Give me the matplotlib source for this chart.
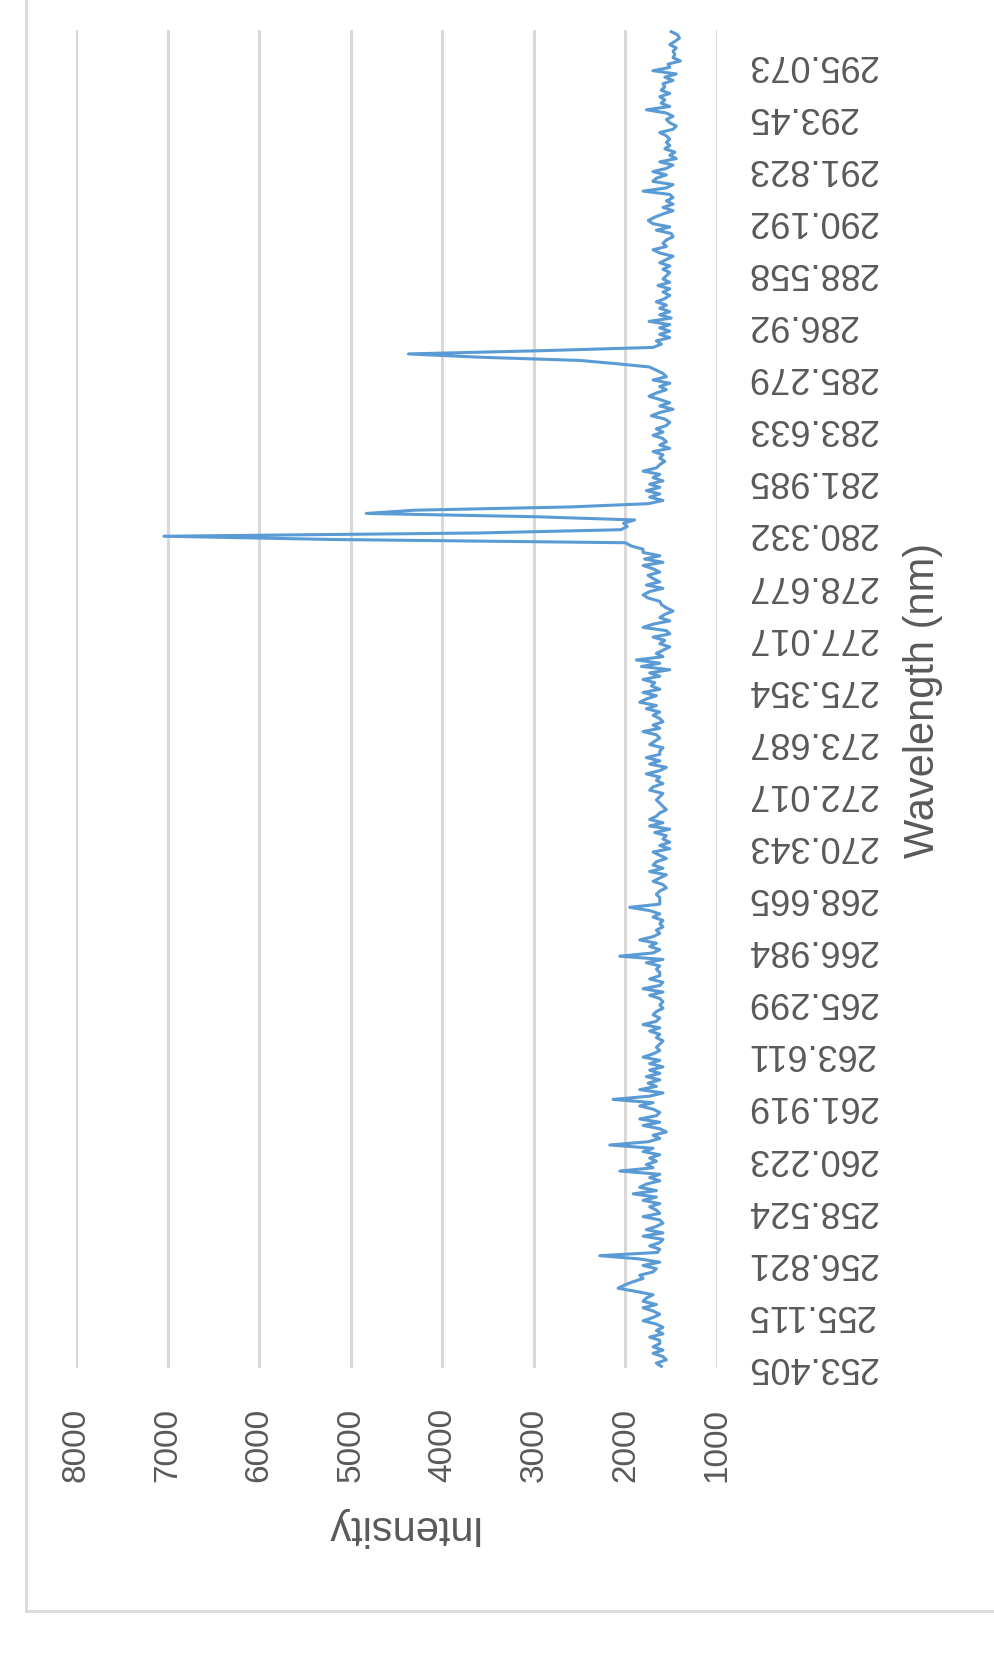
import matplotlib
matplotlib.use("Agg")
import matplotlib.pyplot as plt
from matplotlib.lines import Line2D

plt.rcParams['font.family'] = ['Liberation Sans', 'DejaVu Sans']

# Category-axis labels (every 16th wavelength sample, nm)
wavelength_labels = ["253.405", "255.115", "256.821", "258.524", "260.223", "261.919",
                     "263.611", "265.299", "266.984", "268.665", "270.343", "272.017",
                     "273.687", "275.354", "277.017", "278.677", "280.332", "281.985",
                     "283.633", "285.279", "286.92", "288.558", "290.192", "291.823",
                     "293.45", "295.073"]
label_every = 16

intensity_ticks = [1000, 2000, 3000, 4000, 5000, 6000, 7000, 8000]

# Intensity, listed from the longest wavelength (top) downwards
intensity_from_top = [
    1500, 1430, 1410, 1460, 1516, 1445, 1480, 1460, 1480, 1400,
    1535, 1516, 1700, 1445, 1570, 1480, 1590, 1570, 1610, 1516,
    1625, 1570, 1610, 1516, 1770, 1553, 1480, 1553, 1516, 1445,
    1480, 1625, 1553, 1516, 1553, 1516, 1570, 1460, 1516, 1445,
    1625, 1480, 1553, 1700, 1553, 1662, 1700, 1480, 1553, 1807,
    1516, 1480, 1553, 1480, 1590, 1480, 1590, 1680, 1750, 1700,
    1516, 1662, 1500, 1480, 1553, 1590, 1553, 1698, 1625, 1480,
    1553, 1625, 1516, 1590, 1516, 1553, 1590, 1516, 1644, 1516,
    1590, 1516, 1570, 1662, 1553, 1625, 1516, 1625, 1500, 1742,
    1516, 1625, 1516, 1625, 1516, 1662, 1607, 1698, 2900, 4370,
    3600, 2500, 2100, 1740, 1662, 1590, 1553, 1698, 1516, 1625,
    1553, 1662, 1742, 1625, 1516, 1625, 1480, 1625, 1716, 1570,
    1516, 1553, 1662, 1590, 1698, 1590, 1553, 1625, 1516, 1698,
    1590, 1625, 1570, 1625, 1662, 1807, 1625, 1698, 1590, 1735,
    1625, 1771, 1625, 1735, 1590, 1750, 2600, 4300, 4830, 3000,
    1900, 2020, 1980, 2050, 3600, 7040, 5200, 2000, 1935, 1807,
    1807, 1625, 1790, 1590, 1807, 1698, 1625, 1753, 1698, 1625,
    1771, 1590, 1735, 1807, 1750, 1625, 1607, 1553, 1480, 1570,
    1625, 1516, 1698, 1807, 1553, 1516, 1698, 1570, 1625, 1516,
    1590, 1662, 1590, 1880, 1625, 1825, 1516, 1735, 1625, 1807,
    1680, 1716, 1625, 1807, 1662, 1771, 1844, 1662, 1771, 1625,
    1698, 1625, 1590, 1698, 1625, 1807, 1662, 1625, 1680, 1735,
    1590, 1625, 1625, 1771, 1625, 1735, 1553, 1625, 1771, 1625,
    1662, 1590, 1698, 1735, 1590, 1625, 1662, 1625, 1590, 1553,
    1625, 1662, 1735, 1590, 1735, 1516, 1680, 1553, 1590, 1516,
    1625, 1516, 1698, 1625, 1553, 1662, 1698, 1590, 1735, 1553,
    1625, 1698, 1590, 1553, 1625, 1662, 1625, 1625, 1625, 1953,
    1735, 1625, 1698, 1590, 1625, 1590, 1662, 1625, 1698, 1844,
    1662, 1735, 1625, 1698, 2062, 1590, 1771, 1625, 1662, 1625,
    1625, 1735, 1590, 1625, 1807, 1590, 1735, 1625, 1590, 1625,
    1590, 1662, 1698, 1625, 1662, 1807, 1625, 1735, 1625, 1662,
    1590, 1625, 1662, 1625, 1698, 1807, 1625, 1735, 1590, 1735,
    1625, 1771, 1625, 1753, 1662, 1844, 1590, 1735, 2135, 1698,
    1844, 1698, 1625, 1662, 1844, 1625, 1807, 1625, 1553, 1698,
    1625, 1753, 2171, 1698, 1807, 1625, 1735, 1662, 1771, 1698,
    2062, 1625, 1735, 1625, 1771, 1844, 1662, 1916, 1662, 1807,
    1625, 1735, 1662, 1625, 1807, 1625, 1590, 1662, 1771, 1590,
    1807, 1590, 1625, 1735, 1625, 1650, 2280, 1844, 1625, 1807,
    1662, 1698, 1844, 1807, 1916, 2007, 2080, 1880, 1698, 1771,
    1807, 1662, 1807, 1698, 1625, 1698, 1807, 1662, 1590, 1662,
    1590, 1735, 1625, 1625, 1698, 1590, 1698, 1590, 1553, 1662, 1607,
]
intensity = intensity_from_top[::-1]   # index 0 = 253.405 nm

W, H = 995, 1659
fig = plt.figure(figsize=(W / 100, H / 100), dpi=100)
fig.patch.set_facecolor('white')

# plot area (pixel geometry of the reference)
left, right, top, bottom = 76, 717, 30, 1368
ax = fig.add_axes([left / W, 1 - bottom / H, (right - left) / W, (bottom - top) / H])

n = len(intensity)
positions = list(range(n))
ax.plot(intensity, positions, color='#5B9BD5', lw=2.2, solid_joinstyle='round', zorder=3)

ax.set_xlim(8000, 1000)
ax.set_ylim(-0.5, n - 0.5)

ax.set_xticks(intensity_ticks)
ax.set_xticklabels([str(v) for v in intensity_ticks])
ax.grid(axis='x', color='#D9D9D9', lw=2.2)
ax.grid(axis='y', visible=False)
ax.set_axisbelow(True)
for s in ax.spines.values():
    s.set_visible(False)

ax.set_yticks([k * label_every for k in range(len(wavelength_labels))])
ax.set_yticklabels(wavelength_labels)
ax.yaxis.tick_right()

ax.tick_params(axis='x', length=0, pad=29, labelsize=24, labelrotation=90, colors='#595959')
ax.tick_params(axis='y', length=0, pad=21, labelsize=26, labelrotation=180, colors='#595959')
for t in ax.get_xticklabels():
    t.set_ha('center')
    t.set_va('top')
for t in ax.get_yticklabels():
    t.set_ha('left')
    t.set_va('center')

fig.text(400 / W, 1 - 1527 / H, "Intensity", rotation=180, ha='center', va='center',
         fontsize=30, color='#595959')
fig.text(923 / W, 1 - 700 / H, "Wavelength (nm)", rotation=90, ha='center', va='center',
         fontsize=30, color='#595959')

# chart-area border (only left and bottom edges are inside the picture)
bx, by = 26 / W, 1 - 1611 / H
fig.add_artist(Line2D([bx, bx], [by, 1.0], transform=fig.transFigure, color='#D9D9D9', lw=2))
fig.add_artist(Line2D([bx, 1.0], [by, by], transform=fig.transFigure, color='#D9D9D9', lw=2))

fig.savefig('out.png', dpi=100)
